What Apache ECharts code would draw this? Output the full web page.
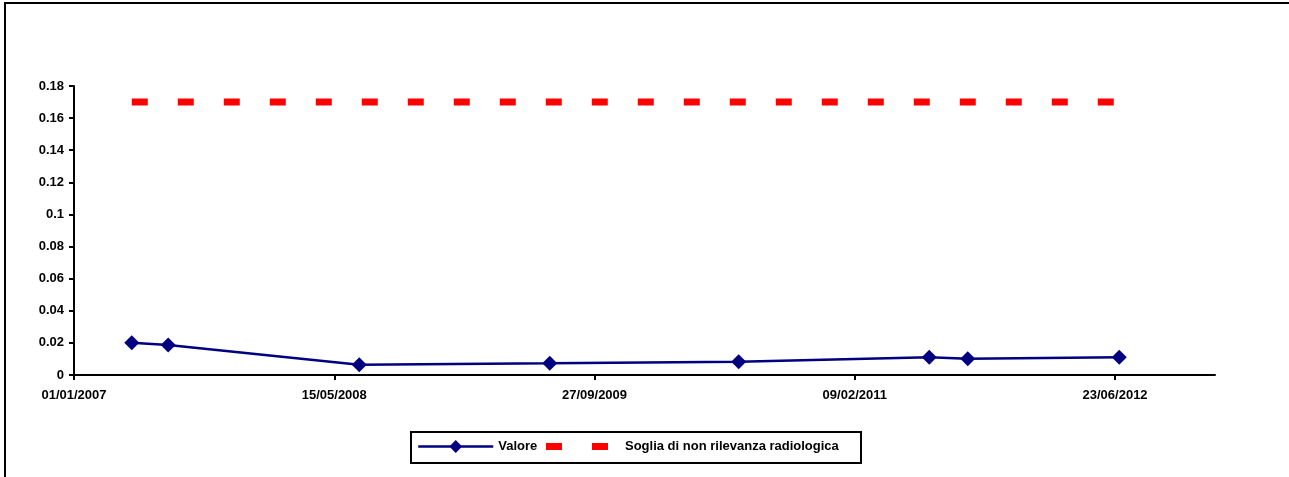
<!DOCTYPE html>
<html>
<head>
<meta charset="utf-8">
<script src="https://cdn.jsdelivr.net/npm/echarts@6/dist/echarts.min.js"></script>
<style>
  html, body { margin: 0; padding: 0; background: #fff; }
  #chart { width: 1289px; height: 477px; }
</style>
</head>
<body>
<div id="chart"></div>
<script>
// Sampling dates (dd/mm/yyyy) and measured values
const sampleDates = ['22/04/2007', '01/07/2007', '02/07/2008', '03/07/2009', '01/07/2010', '02/07/2011', '14/09/2011', '01/07/2012'];
const valore = [0.0201, 0.0187, 0.0064, 0.0073, 0.0083, 0.0110, 0.0101, 0.0110];
const soglia = [0.17, 0.17, 0.17, 0.17, 0.17, 0.17, 0.17, 0.17];

// Axis settings: x in days from the origin date
const axisOrigin = '01/01/2007';
const axisEnd = '01/01/2013';
const xTickDays = [0, 500, 1000, 1500, 2000];
const yMin = 0, yMax = 0.18, yStep = 0.02;

const seriesNames = ['Valore', 'Soglia di non rilevanza radiologica'];

const DAY = 86400000;
function parseDmy(s) {
  const [d, m, y] = s.split('/').map(Number);
  return Date.UTC(y, m - 1, d);
}
const originMs = parseDmy(axisOrigin);
function toDays(s) { return Math.round((parseDmy(s) - originMs) / DAY); }
function fmtDays(v) {
  const dt = new Date(originMs + v * DAY);
  const p = n => String(n).padStart(2, '0');
  return p(dt.getUTCDate()) + '/' + p(dt.getUTCMonth() + 1) + '/' + dt.getUTCFullYear();
}

const xDays = sampleDates.map(toDays);
const valoreData = xDays.map((x, i) => [x, valore[i]]);
const sogliaData = xDays.map((x, i) => [x, soglia[i]]);

const font = { fontFamily: 'Liberation Sans, Arial, sans-serif', fontWeight: 'bold', fontSize: 13, color: '#000' };

// Legend key for the threshold: two dash segments of the dashed line
const dashKeyIcon = 'path://M0,0H16V7H0Z M46,0H62V7H46Z';

const chart = echarts.init(document.getElementById('chart'), null, { renderer: 'canvas' });
chart.setOption({
  animation: false,
  backgroundColor: '#fff',
  grid: { left: 74, right: 74, top: 86, bottom: 102, containLabel: false },
  xAxis: {
    type: 'value',
    min: 0,
    max: toDays(axisEnd),
    interval: 500,
    splitLine: { show: false },
    axisLine: { show: true, lineStyle: { color: '#000', width: 2 } },
    axisTick: { show: true, customValues: xTickDays, length: 5, lineStyle: { color: '#000', width: 2 } },
    axisLabel: { customValues: xTickDays, margin: 14, formatter: v => fmtDays(v), ...font }
  },
  yAxis: {
    type: 'value',
    min: yMin,
    max: yMax,
    interval: yStep,
    splitLine: { show: false },
    axisLine: { show: true, onZero: false, lineStyle: { color: '#000', width: 2 } },
    axisTick: { show: true, length: 5, lineStyle: { color: '#000', width: 2 } },
    axisLabel: { margin: 10, formatter: v => String(+v.toFixed(2)), ...font }
  },
  legend: [
    {
      data: [seriesNames[0]],
      left: 417, top: 440,
      padding: 0,
      itemWidth: 75, itemHeight: 16,
      lineStyle: { width: 2.5 },
      textStyle: font,
      selectedMode: false
    },
    {
      data: [{ name: seriesNames[1], icon: dashKeyIcon }],
      left: 546, top: 440,
      padding: 0,
      itemWidth: 62, itemHeight: 7,
      itemStyle: { color: '#ff0000' },
      textStyle: { ...font, padding: [0, 0, 0, 12] },
      selectedMode: false
    }
  ],
  graphic: [
    { type: 'rect', shape: { x: 411, y: 432, width: 450, height: 31 }, style: { fill: 'none', stroke: '#000', lineWidth: 2 }, silent: true },
    { type: 'polyline', shape: { points: [[5, 477], [5, 3], [1289, 3]] }, style: { fill: 'none', stroke: '#000', lineWidth: 2 }, silent: true }
  ],
  series: [
    {
      name: seriesNames[0],
      type: 'line',
      data: valoreData,
      symbol: 'diamond',
      symbolSize: 15,
      showSymbol: true,
      lineStyle: { color: '#000080', width: 2.5 },
      itemStyle: { color: '#000080' },
      z: 3
    },
    {
      name: seriesNames[1],
      type: 'line',
      data: sogliaData,
      symbol: 'none',
      lineStyle: { color: '#ff0000', width: 7, type: [16, 30], cap: 'butt' },
      itemStyle: { color: '#ff0000' },
      z: 2
    }
  ]
});
</script>
</body>
</html>
